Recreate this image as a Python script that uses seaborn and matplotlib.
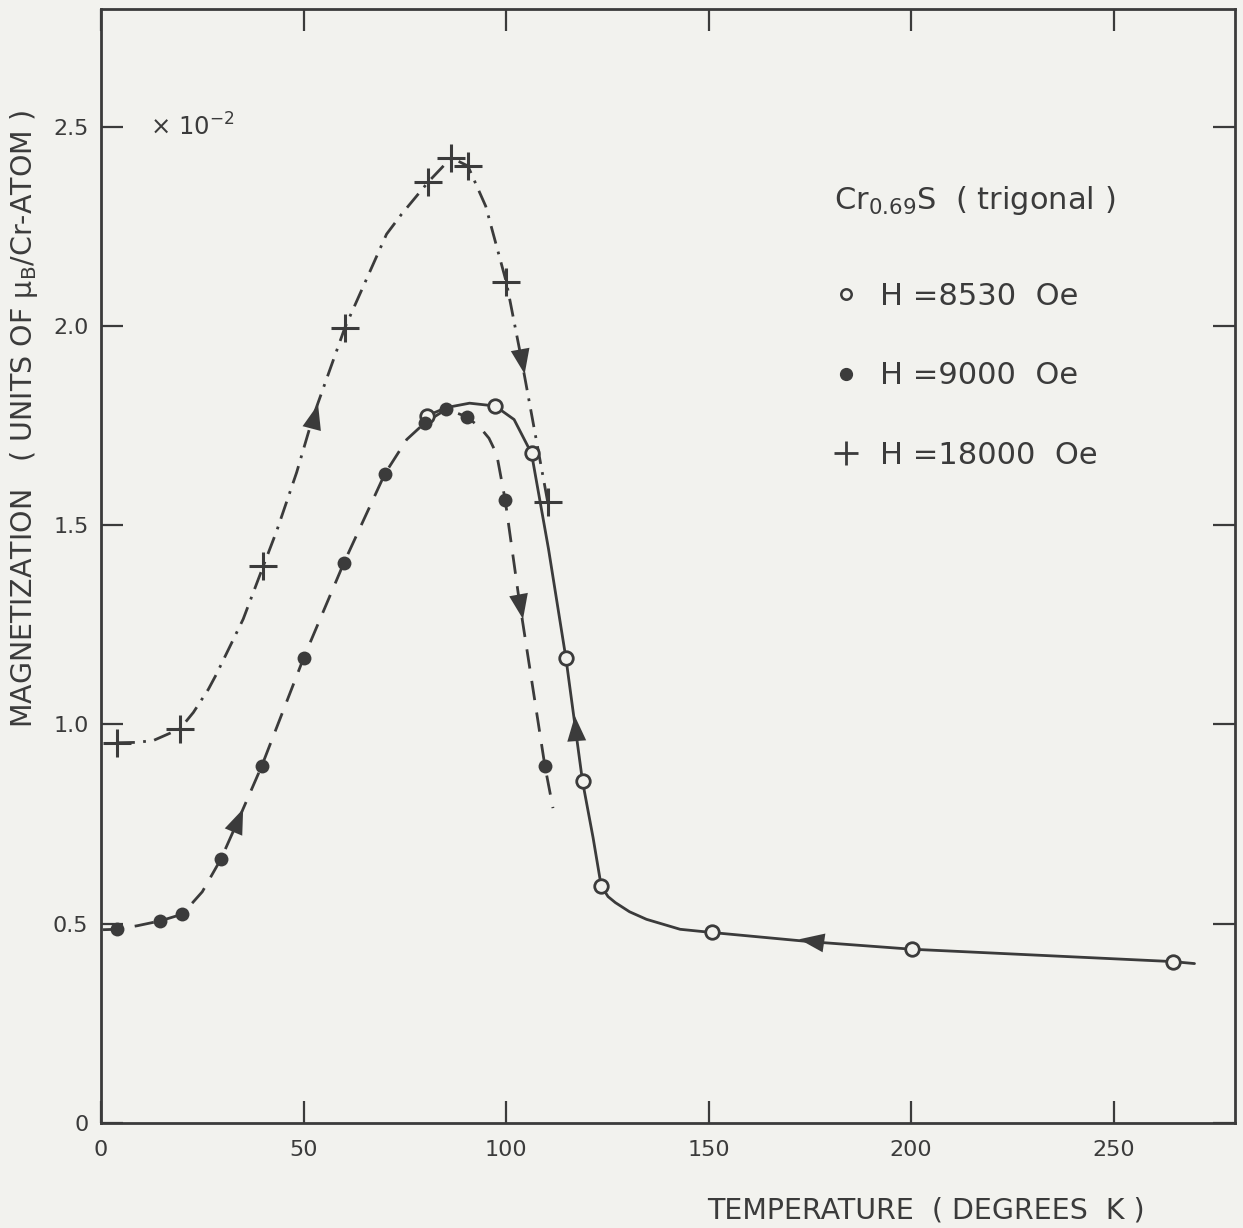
import numpy as np
import pandas as pd
import matplotlib
matplotlib.use("Agg")
import matplotlib.pyplot as plt
import seaborn as sns
from matplotlib.lines import Line2D

t_8530 = [80.4, 97.3, 106.3, 114.8, 118.9, 123.5, 150.8, 200.2, 264.6]
m_8530 = [1.774, 1.799, 1.680, 1.166, 0.857, 0.595, 0.478, 0.436, 0.405]

t_9000 = [3.9, 14.6, 20.1, 29.6, 39.7, 50.0, 60.0, 70.1, 80.0, 85.3, 90.3, 99.8, 109.6]
m_9000 = [0.486, 0.507, 0.524, 0.662, 0.896, 1.166, 1.406, 1.629, 1.757, 1.791, 1.772, 1.563, 0.896]

t_18000 = [3.9, 19.5, 40.1, 60.2, 80.8, 86.5, 90.6, 100.1, 110.3]
m_18000 = [0.954, 0.989, 1.398, 1.995, 2.361, 2.422, 2.401, 2.109, 1.558]

# hand drawn guide curves
curve_8530_t = [80.4, 85.3, 91.0, 97.3, 102.0, 106.3, 110.5, 114.8, 118.9, 121.5, 123.5, 125.2,
                127.0, 130.5, 134.7, 143.0, 150.8, 175.0, 200.2, 264.6, 270.0]
curve_8530_m = [1.774, 1.795, 1.806, 1.799, 1.765, 1.680, 1.440, 1.166, 0.857, 0.716, 0.595, 0.568,
                0.553, 0.530, 0.511, 0.486, 0.478, 0.455, 0.436, 0.405, 0.400]

curve_9000_t = [0.5, 3.9, 9.0, 14.6, 20.1, 25.0, 29.6, 33.8, 39.7, 50.0, 60.0, 70.1, 75.5, 80.0,
                85.3, 90.3, 93.6, 95.8, 97.7, 99.8, 103.0, 109.6, 111.6]
curve_9000_m = [0.485, 0.486, 0.495, 0.507, 0.524, 0.580, 0.662, 0.758, 0.896, 1.166, 1.406, 1.629,
                1.715, 1.757, 1.791, 1.772, 1.745, 1.718, 1.678, 1.563, 1.330, 0.896, 0.790]

curve_18000_t = [3.9, 9.0, 13.0, 19.5, 22.8, 26.5, 28.5, 35.1, 40.1, 43.4, 48.3, 52.3, 60.2, 70.5,
                 74.2, 80.8, 86.5, 90.6, 95.0, 100.1, 103.8, 106.3, 110.3]
curve_18000_m = [0.954, 0.955, 0.960, 0.989, 1.030, 1.088, 1.126, 1.264, 1.398, 1.486, 1.632, 1.770,
                 1.995, 2.230, 2.280, 2.361, 2.422, 2.401, 2.300, 2.109, 1.917, 1.779, 1.558]

# direction arrows drawn on the curves: (tail t, tail m, tip t, tip m)
arrow_tail_t = [32.3, 103.0, 52.0, 103.4, 117.4, 178.4]
arrow_tail_m = [0.720, 1.331, 1.741, 1.946, 0.967, 0.452]
arrow_tip_t = [35.1, 104.2, 53.6, 104.6, 117.0, 172.4]
arrow_tip_m = [0.788, 1.264, 1.803, 1.879, 1.021, 0.461]

x_ticks = [0, 50, 100, 150, 200, 250]
y_ticks = [0, 0.5, 1.0, 1.5, 2.0, 2.5]
y_tick_labels = ["0", "0.5", "1.0", "1.5", "2.0", "2.5"]

legend_labels = ["H =8530  Oe", "H =9000  Oe", "H =18000  Oe"]

ink = "#3b3b3b"
paper = "#f2f2ee"

sns.set_style("ticks")
plt.rcParams["font.family"] = ["DejaVu Sans"]
plt.rcParams["text.color"] = ink
plt.rcParams["axes.labelcolor"] = ink
plt.rcParams["xtick.color"] = ink
plt.rcParams["ytick.color"] = ink

fig = plt.figure(figsize=(12.43, 12.28), dpi=100, facecolor=paper)
ax = fig.add_axes([101 / 1243, 105 / 1228, 1134 / 1243, 1114 / 1228])
ax.set_facecolor(paper)

lw = 2.0
# curves
sns.lineplot(x=curve_8530_t, y=curve_8530_m, ax=ax, sort=False, color=ink, lw=lw,
             linestyle="-", estimator=None)
sns.lineplot(x=curve_9000_t, y=curve_9000_m, ax=ax, sort=False, color=ink, lw=lw,
             linestyle=(0, (7, 4.5)), estimator=None)
sns.lineplot(x=curve_18000_t, y=curve_18000_m, ax=ax, sort=False, color=ink, lw=lw,
             linestyle=(0, (6.5, 3, 1, 3)), estimator=None)

# data points
sns.scatterplot(x=t_8530, y=m_8530, ax=ax, marker="o", s=95, facecolor=paper,
                edgecolor=ink, linewidth=2.0, zorder=5)
sns.scatterplot(x=t_9000, y=m_9000, ax=ax, marker="o", s=100, color=ink,
                edgecolor=ink, linewidth=0, zorder=5)
sns.scatterplot(x=t_18000, y=m_18000, ax=ax, marker="+", s=420, color=ink,
                linewidth=2.2, zorder=5)

# arrows
for xt, yt, xh, yh in zip(arrow_tail_t, arrow_tail_m, arrow_tip_t, arrow_tip_m):
    ax.annotate("", xy=(xh, yh), xytext=(xt, yt),
                arrowprops=dict(arrowstyle="-|>,head_length=0.9,head_width=0.34",
                                mutation_scale=20, lw=0.01, color=ink,
                                shrinkA=0, shrinkB=0), zorder=6)

ax.set_xlim(0, 280)
ax.set_ylim(0, 2.795)
ax.set_xticks(x_ticks)
ax.set_yticks(y_ticks)
ax.set_yticklabels(y_tick_labels)
ax.tick_params(direction="in", length=16, width=1.6, labelsize=16, top=True, right=True,
               labeltop=False, labelright=False)
ax.tick_params(axis="x", pad=12)
ax.tick_params(axis="y", pad=9)
for sp in ax.spines.values():
    sp.set_visible(True)
    sp.set_linewidth(2.0)
    sp.set_color(ink)

ax.set_xlabel("TEMPERATURE  ( DEGREES  K )", fontsize=20.5)
ax.xaxis.set_label_coords(0.7275, -0.066)
ax.set_ylabel("MAGNETIZATION   ( UNITS OF μ$_\\mathrm{B}$/Cr-ATOM )", fontsize=20.5)
ax.yaxis.set_label_coords(-0.054, 0.632)

ax.text(12.0, 2.5, r"$\times$ 10$^{-2}$", fontsize=17.5, va="center", ha="left", color=ink)

handles = [
    Line2D([], [], marker="o", linestyle="none", markersize=7.5, markerfacecolor=paper,
           markeredgecolor=ink, markeredgewidth=1.8),
    Line2D([], [], marker="o", linestyle="none", markersize=8.5, color=ink),
    Line2D([], [], marker="+", linestyle="none", markersize=17, markeredgewidth=2, color=ink),
]
leg = ax.legend(handles, legend_labels, title=r"Cr$_{0.69}$S  ( trigonal )",
                loc="upper left", bbox_to_anchor=(0.6327, 0.857), frameon=False,
                fontsize=22, title_fontsize=22, handlelength=0.8, handletextpad=0.7,
                labelspacing=1.65, borderpad=0, labelcolor=ink)
leg._legend_box.align = "left"
leg._legend_box.sep = 47
leg.get_title().set_color(ink)

fig.savefig("out.png", dpi=100, facecolor=paper)
